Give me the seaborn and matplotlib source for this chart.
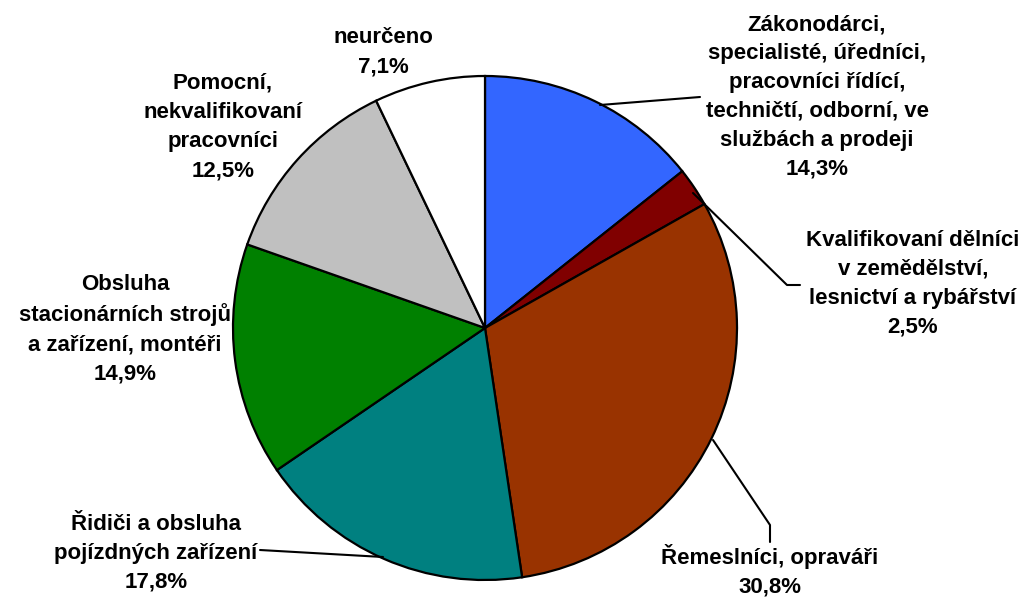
import matplotlib
matplotlib.use('Agg')
import matplotlib.pyplot as plt
import seaborn as sns

labels = ['Zákonodárci,\nspecialisté, úředníci,\npracovníci řídící,\ntechničtí, odborní, ve\nslužbách a prodeji',
          'Kvalifikovaní dělníci\nv zemědělství,\nlesnictví a rybářství',
          'Řemeslníci, opraváři',
          'Řidiči a obsluha\npojízdných zařízení',
          'Obsluha\nstacionárních strojů\na zařízení, montéři',
          'Pomocní,\nnekvalifikovaní\npracovníci',
          'neurčeno']
values = [14.3, 2.5, 30.8, 17.8, 14.9, 12.5, 7.1]
colors = ['#3366FF', '#800000', '#993300', '#008080', '#008000', '#C0C0C0', '#FFFFFF']

# pozice popisků v pixelech (x, y shora)
label_pos = [(817, 97), (913, 284), (770, 571), (156, 553), (125, 329), (223, 127), (383, 52)]
# vodicí čáry v pixelech
leaders = [
    [(600, 105), (700, 97)],
    [(693, 193), (787, 285), (800, 285)],
    [(713, 440), (770, 525), (770, 542)],
    [(383, 557), (260, 550)],
]

sns.set_theme(style='white')
plt.rcParams['font.family'] = ['Liberation Sans', 'DejaVu Sans']

H = 599
fig = plt.figure(figsize=(10.23, 5.99), dpi=100)
ax = fig.add_axes([0, 0, 1, 1])

ax.pie(values, colors=colors, startangle=90, counterclock=False,
       center=(485, H - 328), radius=252, frame=True,
       wedgeprops=dict(edgecolor='black', linewidth=1.6))
ax.set_xlim(0, 1023)
ax.set_ylim(0, H)
ax.set_aspect('equal')
ax.axis('off')

for lab, v, (px, py) in zip(labels, values, label_pos):
    txt = f'{lab}\n{v:.1f}%'.replace('.', ',')
    ax.text(px, H - py, txt, ha='center', va='center', fontsize=16,
            fontweight='bold', linespacing=1.5, color='black')

for pts in leaders:
    xs = [p[0] for p in pts]
    ys = [H - p[1] for p in pts]
    ax.plot(xs, ys, color='black', linewidth=1.5)

fig.savefig('out.png', dpi=100)
